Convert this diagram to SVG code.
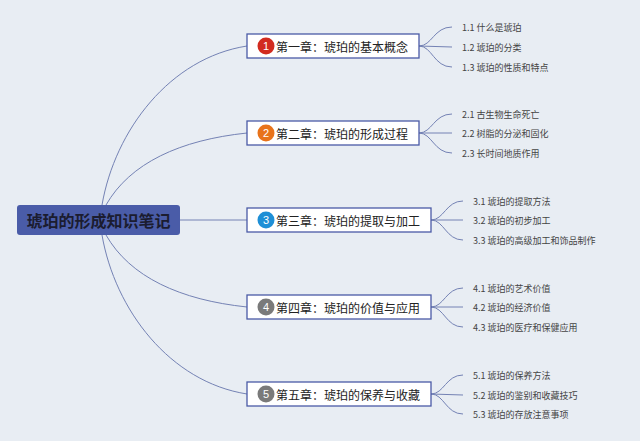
<svg xmlns="http://www.w3.org/2000/svg" width="640" height="441" viewBox="0 0 640 441">
<style>
.bg{fill:#e8edf3}
.con{fill:none;stroke:#7482b4;stroke-width:1}
.box{fill:#ffffff;stroke:#4a5aa6;stroke-width:1.3}
.ct{font-family:"Noto Sans CJK SC","Liberation Sans",sans-serif;font-size:12px;fill:#222}
.num{font-family:"Liberation Sans","Noto Sans CJK SC",sans-serif;font-size:11px;fill:#fff;text-anchor:middle}
.st{font-family:"Noto Sans CJK SC","Liberation Sans",sans-serif;font-size:9px;fill:#444}
.rt{font-family:"Noto Sans CJK SC","Liberation Sans",sans-serif;font-size:16px;font-weight:bold;fill:#1b1c30}
</style>
<rect class="bg" x="0" y="0" width="640" height="441"/>
<g id="connectors">
<path class="con" d="M102,205 C115,130 170,58 247,46"/>
<path class="con" d="M106,205 C130,163 180,140 247,133"/>
<path class="con" d="M180,220 L247,220"/>
<path class="con" d="M106,235 C130,277 180,300 247,307"/>
<path class="con" d="M102,235 C115,310 170,382 247,394"/>
<path class="con" d="M419,46 C432,46 434,27 452,27"/>
<path class="con" d="M419,46 L452,47"/>
<path class="con" d="M419,46 C432,46 434,67 452,67"/>
<path class="con" d="M419,133 C432,133 434,114 452,114"/>
<path class="con" d="M419,133 L452,133"/>
<path class="con" d="M419,133 C432,133 434,153 452,153"/>
<path class="con" d="M431,220 C444,220 446,201 463,201"/>
<path class="con" d="M431,220 L463,220"/>
<path class="con" d="M431,220 C444,220 446,240 463,240"/>
<path class="con" d="M431,307 C444,307 446,288 463,288"/>
<path class="con" d="M431,307 L463,307"/>
<path class="con" d="M431,307 C444,307 446,327 463,327"/>
<path class="con" d="M431,394 C444,394 446,375 463,375"/>
<path class="con" d="M431,394 L463,395"/>
<path class="con" d="M431,394 C444,394 446,414 463,414"/>
</g>
<g id="root">
<rect x="17" y="205" width="163" height="30" rx="3" fill="#4a5ca8"/>
<text class="rt" x="98.5" y="220" text-anchor="middle" dominant-baseline="central">琥珀的形成知识笔记</text>
</g>
<g id="ch1">
<rect class="box" x="247" y="34" width="172" height="24"/>
<circle cx="266" cy="46" r="8.5" fill="#d22b1f"/>
<text class="num" x="266" y="46" dominant-baseline="central">1</text>
<text class="ct" x="276" y="46" dominant-baseline="central">第一章：琥珀的基本概念</text>
</g>
<g id="ch2">
<rect class="box" x="247" y="121" width="172" height="24"/>
<circle cx="266" cy="133" r="8.5" fill="#e8731b"/>
<text class="num" x="266" y="133" dominant-baseline="central">2</text>
<text class="ct" x="276" y="133" dominant-baseline="central">第二章：琥珀的形成过程</text>
</g>
<g id="ch3">
<rect class="box" x="247" y="208" width="184" height="24"/>
<circle cx="266" cy="220" r="8.5" fill="#1e8fd6"/>
<text class="num" x="266" y="220" dominant-baseline="central">3</text>
<text class="ct" x="276" y="220" dominant-baseline="central">第三章：琥珀的提取与加工</text>
</g>
<g id="ch4">
<rect class="box" x="247" y="295" width="184" height="24"/>
<circle cx="266" cy="307" r="8.5" fill="#7a7a7a"/>
<text class="num" x="266" y="307" dominant-baseline="central">4</text>
<text class="ct" x="276" y="307" dominant-baseline="central">第四章：琥珀的价值与应用</text>
</g>
<g id="ch5">
<rect class="box" x="247" y="382" width="184" height="24"/>
<circle cx="266" cy="394" r="8.5" fill="#7a7a7a"/>
<text class="num" x="266" y="394" dominant-baseline="central">5</text>
<text class="ct" x="276" y="394" dominant-baseline="central">第五章：琥珀的保养与收藏</text>
</g>
<g id="sub1">
<text class="st" x="462" y="27" dominant-baseline="central">1.1 什么是琥珀</text>
<text class="st" x="462" y="47" dominant-baseline="central">1.2 琥珀的分类</text>
<text class="st" x="462" y="67" dominant-baseline="central">1.3 琥珀的性质和特点</text>
</g>
<g id="sub2">
<text class="st" x="462" y="114" dominant-baseline="central">2.1 古生物生命死亡</text>
<text class="st" x="462" y="133" dominant-baseline="central">2.2 树脂的分泌和固化</text>
<text class="st" x="462" y="153" dominant-baseline="central">2.3 长时间地质作用</text>
</g>
<g id="sub3">
<text class="st" x="473" y="201" dominant-baseline="central">3.1 琥珀的提取方法</text>
<text class="st" x="473" y="220" dominant-baseline="central">3.2 琥珀的初步加工</text>
<text class="st" x="473" y="240" dominant-baseline="central">3.3 琥珀的高级加工和饰品制作</text>
</g>
<g id="sub4">
<text class="st" x="473" y="288" dominant-baseline="central">4.1 琥珀的艺术价值</text>
<text class="st" x="473" y="307" dominant-baseline="central">4.2 琥珀的经济价值</text>
<text class="st" x="473" y="327" dominant-baseline="central">4.3 琥珀的医疗和保健应用</text>
</g>
<g id="sub5">
<text class="st" x="473" y="375" dominant-baseline="central">5.1 琥珀的保养方法</text>
<text class="st" x="473" y="395" dominant-baseline="central">5.2 琥珀的鉴别和收藏技巧</text>
<text class="st" x="473" y="414" dominant-baseline="central">5.3 琥珀的存放注意事项</text>
</g>
</svg>
